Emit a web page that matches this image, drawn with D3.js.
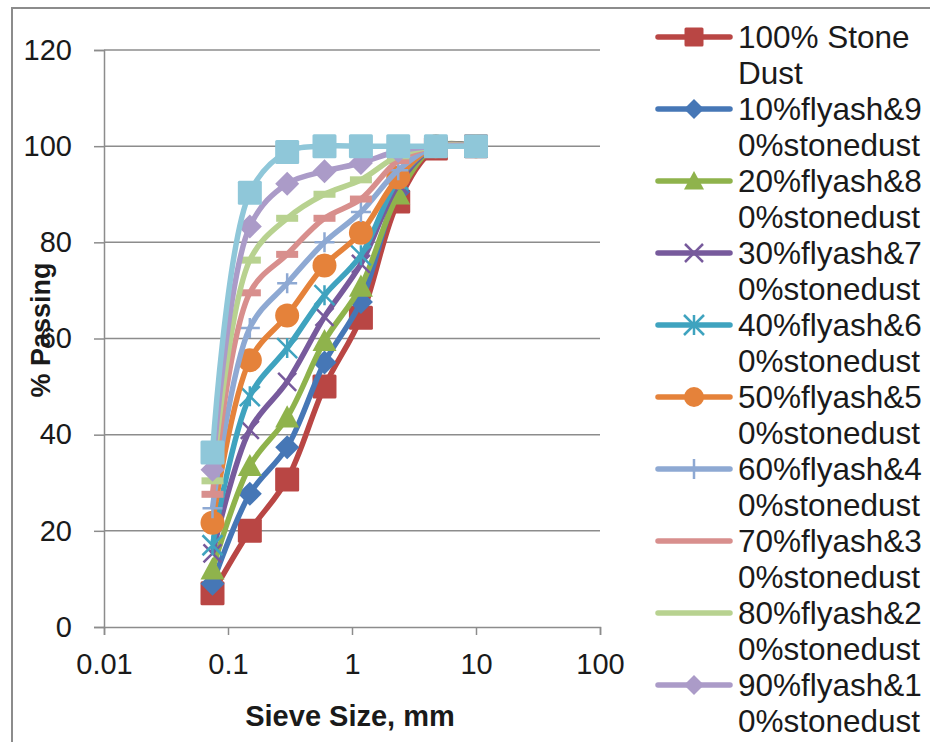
<!DOCTYPE html>
<html>
<head>
<meta charset="utf-8">
<script src="https://d3js.org/d3.v7.min.js"></script>
<style>
  body { margin: 0; background: #fff; }
  text { font-family: "Liberation Sans", Arial, sans-serif; fill: #1a1a1a; }
</style>
</head>
<body>
<svg id="chart" width="930" height="742"></svg>
<script>
// sieve sizes, mm
const sieves = [0.075, 0.15, 0.3, 0.6, 1.18, 2.36, 4.75, 10];

const names = [
  "100% Stone Dust",
  "10%flyash&90%stonedust",
  "20%flyash&80%stonedust",
  "30%flyash&70%stonedust",
  "40%flyash&60%stonedust",
  "50%flyash&50%stonedust",
  "60%flyash&40%stonedust",
  "70%flyash&30%stonedust",
  "80%flyash&20%stonedust",
  "90%flyash&10%stonedust",
  "100%flyash"
];

const stoneDust = [7, 20, 30.7, 50, 64.3, 88.5, 99.5, 100];
const fa10 = [9, 27.7, 37.4, 55, 67.6, 90.5, 100, 100];
const fa20 = [12, 33.5, 43.6, 59.5, 70.8, 90, 100, 100];
const fa30 = [15.3, 41, 51, 64.5, 75.5, 92, 100, 100];
const fa40 = [17, 48, 58, 69, 77.3, 93, 100, 100];
const fa50 = [21.7, 55.5, 64.8, 75.2, 82, 93.5, 100, 100];
const fa60 = [24.7, 62.2, 71.5, 80, 86.3, 95, 100, 100];
const fa70 = [27.6, 69.5, 77.5, 85, 89, 97, 100, 100];
const fa80 = [30.4, 76.3, 85, 90, 93, 98, 100, 100];
const fa90 = [32.7, 83.3, 92.2, 94.8, 96.5, 99, 100, 100];
const fa100 = [36.3, 90.3, 98.8, 100, 100, 100, 100, 100];

const seriesValues = [stoneDust, fa10, fa20, fa30, fa40, fa50, fa60, fa70, fa80, fa90, fa100];

const colors = ["#b94644", "#4677b6", "#8fb34c", "#775a9c", "#3fa3bf", "#e5823a",
                "#8ea9d3", "#d88f8d", "#b8d290", "#ab9bc8", "#8fc7d9"];
const markers = ["square", "diamond", "triangle", "x", "star", "circle", "plus", "dash", "dash", "diamond", "square"];

const xTicks = [0.01, 0.1, 1, 10, 100];
const yTicks = [0, 20, 40, 60, 80, 100, 120];

const svg = d3.select("#chart");
const width = +svg.attr("width");
const height = +svg.attr("height");

const plot = { left: 104, right: 600, top: 50, bottom: 627 };

const x = d3.scaleLog().domain([0.01, 100]).range([plot.left, plot.right]);
const y = d3.scaleLinear().domain([0, 120]).range([plot.bottom, plot.top]);

// chart area border
svg.append("path")
  .attr("d", `M12,${height} L12,8 L${width},8`)
  .attr("fill", "none").attr("stroke", "#8c8c8c").attr("stroke-width", 2);

// horizontal grid
svg.append("g").selectAll("line").data(yTicks.filter(d => d > 0)).join("line")
  .attr("x1", plot.left).attr("x2", plot.right)
  .attr("y1", d => y(d)).attr("y2", d => y(d))
  .attr("stroke", "#8c8c8c").attr("stroke-width", 1.5);

// y axis
const yAxis = svg.append("g").attr("transform", `translate(${plot.left},0)`)
  .call(d3.axisLeft(y).tickValues(yTicks).tickSize(10).tickPadding(22).tickFormat(d3.format("d")));
// x axis
const xAxis = svg.append("g").attr("transform", `translate(0,${plot.bottom})`)
  .call(d3.axisBottom(x).tickValues(xTicks).tickSize(8).tickPadding(18).tickFormat(d => String(d)));

[yAxis, xAxis].forEach(a => {
  a.select(".domain").attr("stroke", "#8c8c8c").attr("stroke-width", 1.5);
  a.selectAll(".tick line").attr("stroke", "#8c8c8c").attr("stroke-width", 1.5);
  a.selectAll(".tick text").attr("font-size", 29).attr("fill", "#1a1a1a")
    .attr("font-family", '"Liberation Sans", Arial, sans-serif');
});

// axis titles
svg.append("text")
  .attr("x", 350).attr("y", 726)
  .attr("text-anchor", "middle").attr("font-size", 29).attr("font-weight", "bold")
  .text("Sieve Size, mm");
svg.append("text")
  .attr("transform", `translate(50,330) rotate(-90)`)
  .attr("text-anchor", "middle").attr("font-size", 27).attr("font-weight", "bold")
  .text("% Passing");

// marker drawing
function drawMarker(g, type, color, s) {
  const h = s / 2;
  if (type === "square") {
    g.append("rect").attr("x", -h).attr("y", -h).attr("width", s).attr("height", s)
      .attr("fill", color).attr("rx", 1.5);
  } else if (type === "diamond") {
    g.append("path").attr("d", `M0,${-h}L${h},0L0,${h}L${-h},0Z`).attr("fill", color);
  } else if (type === "triangle") {
    g.append("path").attr("d", `M0,${-h}L${h},${h * 0.85}L${-h},${h * 0.85}Z`).attr("fill", color);
  } else if (type === "circle") {
    g.append("circle").attr("r", h).attr("fill", color);
  } else if (type === "x") {
    g.append("path").attr("d", `M${-h},${-h}L${h},${h}M${h},${-h}L${-h},${h}`)
      .attr("stroke", color).attr("stroke-width", 2.5);
  } else if (type === "star") {
    g.append("path").attr("d", `M${-h},${-h}L${h},${h}M${h},${-h}L${-h},${h}M0,${-h}L0,${h}`)
      .attr("stroke", color).attr("stroke-width", 2.5);
  } else if (type === "plus") {
    g.append("path").attr("d", `M${-h},0L${h},0M0,${-h}L0,${h}`)
      .attr("stroke", color).attr("stroke-width", 2.5);
  } else if (type === "dash") {
    g.append("rect").attr("x", -h).attr("y", -3.5).attr("width", s).attr("height", 7)
      .attr("fill", color);
  }
}

const line = d3.line()
  .x(d => x(d[0])).y(d => y(d[1]))
  .curve(d3.curveCatmullRom.alpha(0.5));

const series = seriesValues.map((vals, i) => ({
  name: names[i], color: colors[i], marker: markers[i],
  points: sieves.map((s, j) => [s, vals[j]])
}));

const layer = svg.append("g");
series.forEach(sr => {
  const g = layer.append("g");
  g.append("path").attr("d", line(sr.points))
    .attr("fill", "none").attr("stroke", sr.color).attr("stroke-width", 5.5)
    .attr("stroke-linejoin", "round");
  const size = { square: 24, diamond: 24, triangle: 24, circle: 24, x: 18, star: 20, plus: 20, dash: 22 }[sr.marker];
  sr.points.forEach(p => {
    const m = g.append("g").attr("transform", `translate(${x(p[0])},${y(p[1])})`);
    drawMarker(m, sr.marker, sr.color, size);
  });
});

// legend
const legend = svg.append("g");
const legendX = 658, legendTextX = 738, legendTop = 37, lineGap = 36, maxTextW = 192, legendFont = 31.5;
const measure = legend.append("text").attr("font-size", legendFont).attr("opacity", 0);
function textW(s) { measure.text(s); return measure.node().getComputedTextLength(); }
function wrap(str) {
  const words = str.split(" ");
  const lines = [];
  let cur = "";
  words.forEach(w => {
    const test = cur ? cur + " " + w : w;
    if (textW(test) <= maxTextW) { cur = test; return; }
    if (cur) { lines.push(cur); cur = ""; }
    let chunk = "";
    for (const ch of w) {
      if (textW(chunk + ch) > maxTextW) { lines.push(chunk); chunk = ch; }
      else chunk += ch;
    }
    cur = chunk;
  });
  if (cur) lines.push(cur);
  return lines;
}

let yPos = legendTop;
series.forEach(sr => {
  const lines = wrap(sr.name);
  if (yPos > height) return;
  const g = legend.append("g");
  g.append("line").attr("x1", legendX).attr("x2", legendX + 72)
    .attr("y1", yPos).attr("y2", yPos)
    .attr("stroke", sr.color).attr("stroke-width", 5.5).attr("stroke-linecap", "round");
  const size = { square: 19, diamond: 20, triangle: 20, circle: 20, x: 18, star: 20, plus: 20, dash: 0 }[sr.marker];
  if (size) {
    const m = g.append("g").attr("transform", `translate(${legendX + 36},${yPos})`);
    drawMarker(m, sr.marker, sr.color, size);
  }
  const t = g.append("text").attr("font-size", legendFont);
  lines.forEach((l, k) => {
    t.append("tspan").attr("x", legendTextX).attr("y", yPos + k * lineGap + 11).text(l);
  });
  yPos += lines.length * lineGap;
});
measure.remove();
</script>
</body>
</html>
